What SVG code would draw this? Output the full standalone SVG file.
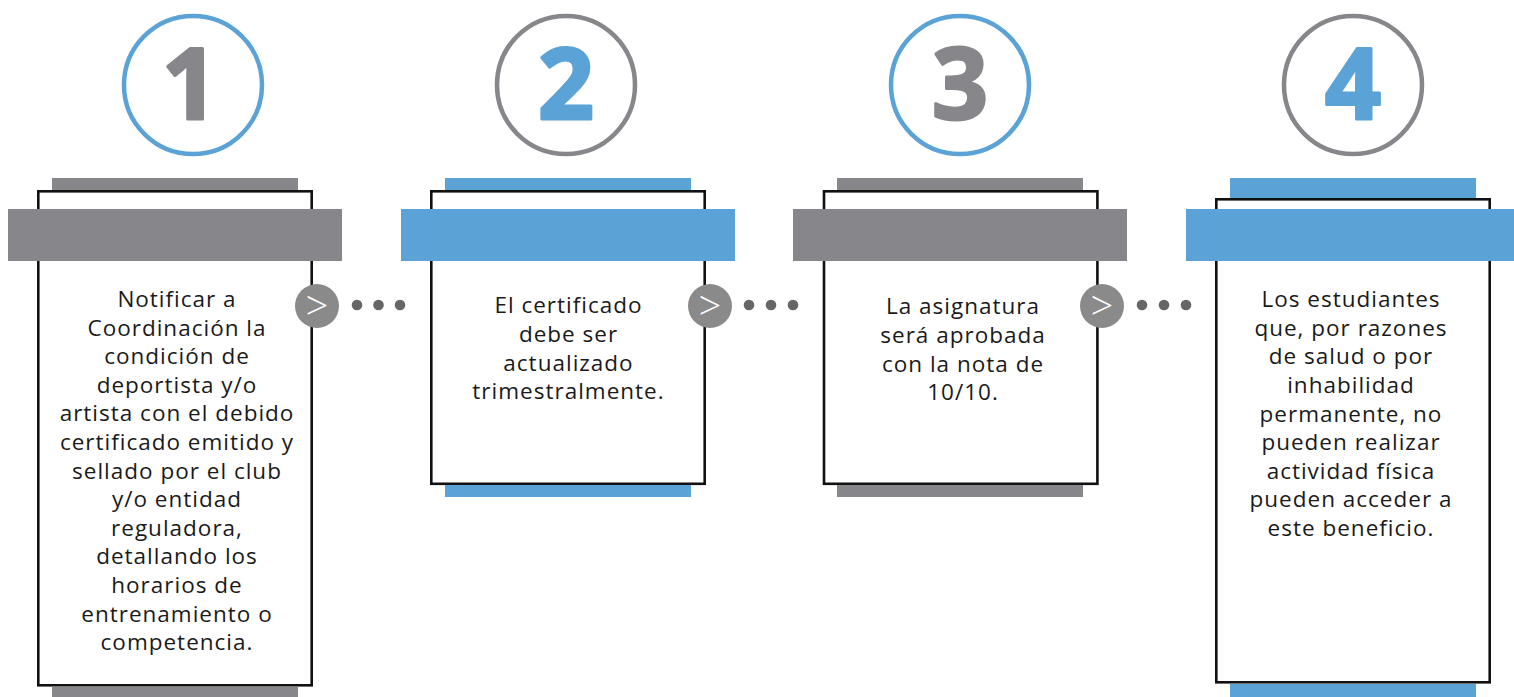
<svg xmlns="http://www.w3.org/2000/svg" width="1514" height="697" viewBox="0 0 1514 697">
<style>
.gf{fill:#87868a}
.bf{fill:#5ba3d6}
.ring{fill:none;stroke-width:4.5}
.rb{stroke:#5ba3d6}
.rg{stroke:#87868a}
.num{font-family:"Open Sans","Noto Sans",sans-serif;font-weight:700;font-size:98px;text-anchor:middle;stroke-width:3;stroke-linejoin:round}
.ng{fill:#87868a;stroke:#87868a}
.nb{fill:#5ba3d6;stroke:#5ba3d6}
.box{fill:#fff;stroke:#111;stroke-width:2.6}
.txt{font-family:"Open Sans","Noto Sans",sans-serif;font-size:22.5px;letter-spacing:1px;fill:#1a1a1a;text-anchor:middle}
.cc{fill:#8a8a8a}
.dot{fill:#666}
.gt{font-family:"Open Sans","Noto Sans",sans-serif;font-weight:300;font-size:40px;fill:#fff;text-anchor:middle}
</style>
<g id="step1">
<circle class="ring rb" cx="193" cy="85" r="69"/>
<text class="num ng" x="190" y="119">1</text>
<rect class="gf" x="52" y="178" width="246" height="13"/>
<rect class="box" x="38.3" y="191.3" width="273.4" height="494"/>
<rect class="gf" x="8" y="209" width="334" height="52"/>
<rect class="gf" x="52" y="686.6" width="246" height="11"/>
<text class="txt"><tspan x="177" y="307">Notificar a</tspan><tspan x="177" y="335.6">Coordinación la</tspan><tspan x="177" y="364.2">condición de</tspan><tspan x="177" y="392.8">deportista y/o</tspan><tspan x="177" y="421.4">artista con el debido</tspan><tspan x="177" y="450">certificado emitido y</tspan><tspan x="177" y="478.6">sellado por el club</tspan><tspan x="177" y="507.2">y/o entidad</tspan><tspan x="177" y="535.8">reguladora,</tspan><tspan x="177" y="564.4">detallando los</tspan><tspan x="177" y="593">horarios de</tspan><tspan x="177" y="621.6">entrenamiento o</tspan><tspan x="177" y="650.2">competencia.</tspan></text>
</g>
<g id="step2">
<circle class="ring rg" cx="566" cy="85" r="69"/>
<text class="num nb" x="566" y="119">2</text>
<rect class="bf" x="445" y="178" width="246" height="13"/>
<rect class="box" x="431.3" y="191.3" width="273.4" height="292.5"/>
<rect class="bf" x="401" y="209" width="334" height="52"/>
<rect class="bf" x="445" y="485" width="246" height="12"/>
<text class="txt"><tspan x="568.5" y="313.3">El certificado</tspan><tspan x="568.5" y="342">debe ser</tspan><tspan x="568.5" y="370.7">actualizado</tspan><tspan x="568.5" y="399.3">trimestralmente.</tspan></text>
</g>
<g id="step3">
<circle class="ring rb" cx="960" cy="85" r="69"/>
<text class="num ng" x="960" y="119">3</text>
<rect class="gf" x="837" y="178" width="246" height="13"/>
<rect class="box" x="824" y="191.3" width="273.4" height="292.5"/>
<rect class="gf" x="793" y="209" width="334" height="52"/>
<rect class="gf" x="837" y="485" width="246" height="12"/>
<text class="txt"><tspan x="963" y="314.3">La asignatura</tspan><tspan x="963" y="342.9">será aprobada</tspan><tspan x="963" y="371.5">con la nota de</tspan><tspan x="963" y="400">10/10.</tspan></text>
</g>
<g id="step4">
<circle class="ring rg" cx="1353" cy="85" r="69"/>
<text class="num nb" x="1353" y="119">4</text>
<rect class="bf" x="1230" y="178" width="246" height="21"/>
<rect class="box" x="1216.3" y="199.3" width="273.4" height="483"/>
<rect class="bf" x="1186" y="209" width="328" height="52"/>
<rect class="bf" x="1230" y="684" width="246" height="13"/>
<text class="txt"><tspan x="1351" y="307.3">Los estudiantes</tspan><tspan x="1351" y="335.9">que, por razones</tspan><tspan x="1351" y="364.4">de salud o por</tspan><tspan x="1351" y="393">inhabilidad</tspan><tspan x="1351" y="421.5">permanente, no</tspan><tspan x="1351" y="450.1">pueden realizar</tspan><tspan x="1351" y="478.6">actividad física</tspan><tspan x="1351" y="507.2">pueden acceder a</tspan><tspan x="1351" y="535.7">este beneficio.</tspan></text>
</g>
<g id="connectors">
<circle class="cc" cx="317" cy="306" r="22"/>
<text class="gt" x="317" y="320">&gt;</text>
<circle class="dot" cx="357" cy="305" r="5.3"/>
<circle class="dot" cx="378.5" cy="305" r="5.3"/>
<circle class="dot" cx="400" cy="305" r="5.3"/>
<circle class="cc" cx="710" cy="306" r="22"/>
<text class="gt" x="710" y="320">&gt;</text>
<circle class="dot" cx="749" cy="305" r="5.3"/>
<circle class="dot" cx="771" cy="305" r="5.3"/>
<circle class="dot" cx="793" cy="305" r="5.3"/>
<circle class="cc" cx="1102" cy="306" r="22"/>
<text class="gt" x="1102" y="320">&gt;</text>
<circle class="dot" cx="1142" cy="305" r="5.3"/>
<circle class="dot" cx="1164" cy="305" r="5.3"/>
<circle class="dot" cx="1186" cy="305" r="5.3"/>
</g>
</svg>
